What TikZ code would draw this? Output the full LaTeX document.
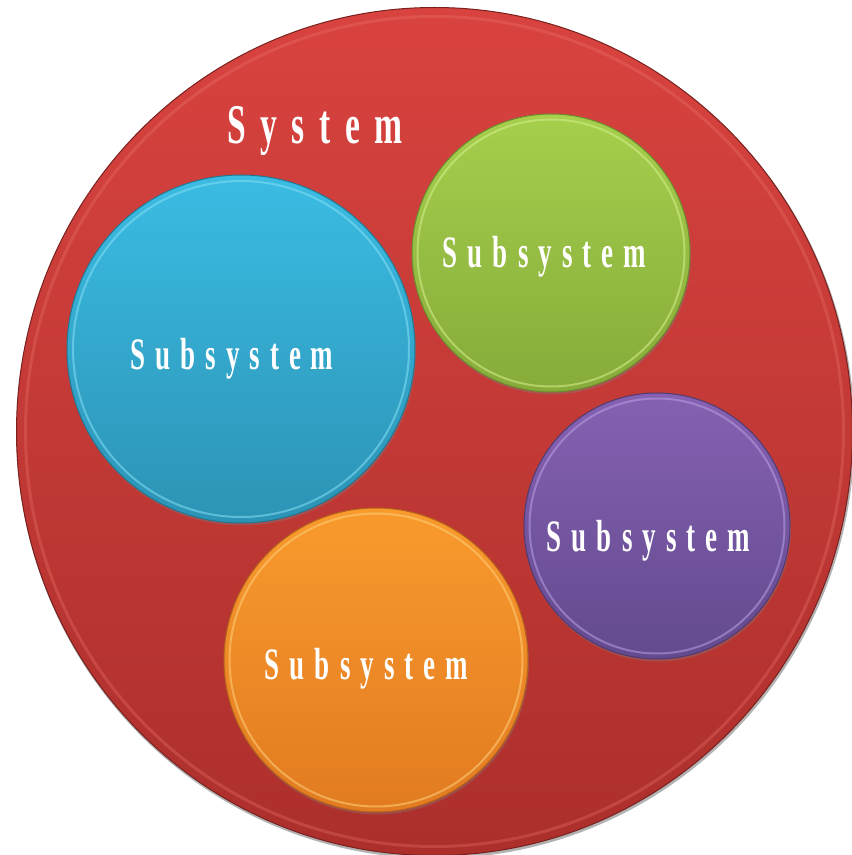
\documentclass[tikz,border=0pt]{standalone}
\usepackage{fontspec}
\newfontfamily\lblfont[FakeStretch=0.6]{Liberation Serif}
\usetikzlibrary{shadows}
\definecolor{redT}{HTML}{D9433F}
\definecolor{redB}{HTML}{AC2F2C}
\definecolor{redL}{HTML}{EE7A70}
\definecolor{blueT}{HTML}{3BBCE3}
\definecolor{blueB}{HTML}{2C93B5}
\definecolor{blueL}{HTML}{86E0F6}
\definecolor{greenT}{HTML}{A6CF4C}
\definecolor{greenB}{HTML}{86AB3A}
\definecolor{greenL}{HTML}{D6F08C}
\definecolor{purpT}{HTML}{8661B3}
\definecolor{purpB}{HTML}{634A8E}
\definecolor{purpL}{HTML}{B9A0E4}
\definecolor{orT}{HTML}{F99A2D}
\definecolor{orB}{HTML}{E27B21}
\definecolor{orL}{HTML}{FDD27A}
\newcommand\lk{\kern 10pt}
\newcommand\lkk{\kern 14.5pt}
\newcommand\subword{S\lk u\lk b\lk s\lk y\lk s\lk t\lk e\lk m}
\newcommand\sysword{S\lkk y\lkk s\lkk t\lkk e\lkk m}
\begin{document}
\begin{tikzpicture}[x=1pt,y=1pt,
  disc/.style={circle, inner sep=0pt, minimum size=#1, line width=1pt,
    drop shadow={shadow xshift=1pt, shadow yshift=-2.5pt, opacity=.35}},
  rim/.style={line width=2pt, opacity=.55},
  lbl/.style={anchor=base, text=white, inner sep=0pt,
    font=\lblfont\bfseries\fontsize{45}{45}\selectfont},
  syslbl/.style={anchor=base, text=white, inner sep=0pt,
    font=\lblfont\bfseries\fontsize{56}{56}\selectfont}]
\useasboundingbox (0,0) rectangle (852,855);
\begin{scope}
\clip (0,0) rectangle (852,855);
\fill[black, opacity=.3] (435.5,421.5) ellipse [x radius=419, y radius=425];
\shade[top color=redT, bottom color=redB, draw=redB!70!black, line width=1pt]
  (434.5,423.5) ellipse [x radius=418, y radius=424];
\draw[redL, line width=3pt, opacity=.3] (434.5,423.5) ellipse [x radius=409, y radius=415];
\end{scope}
\node[syslbl] (sys) at (315,711) {\sysword};
% subsystems
\node[disc=348pt, top color=blueT, bottom color=blueB, draw=blueB!80!black] (blue) at (241,506) {};
\draw[blueL, rim] (blue.center) circle (168);
\node[disc=278pt, top color=greenT, bottom color=greenB, draw=greenB!80!black] (green) at (551,602) {};
\draw[greenL, rim] (green.center) circle (133.5);
\node[disc=266pt, top color=purpT, bottom color=purpB, draw=purpB!80!black] (purple) at (657,329) {};
\draw[purpL, rim] (purple.center) circle (127.5);
\node[disc=304pt, top color=orT, bottom color=orB, draw=orB!80!black] (orange) at (376,195) {};
\draw[orL, rim] (orange.center) circle (146.5);
% labels
\node[lbl] (lblue) at (232,485) {\subword};
\node[lbl] (lgreen) at (544.5,587) {\subword};
\node[lbl] (lpurple) at (648.5,303) {\subword};
\node[lbl] (lorange) at (366.5,175) {\subword};
\end{tikzpicture}
\end{document}
